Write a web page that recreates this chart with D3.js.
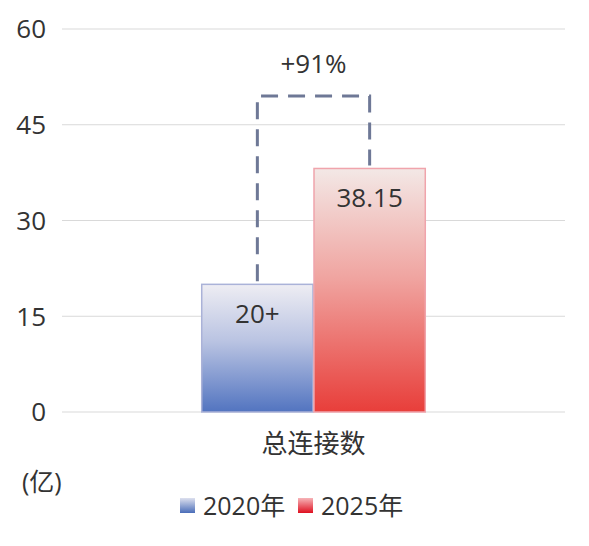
<!DOCTYPE html>
<html><head><meta charset="utf-8">
<script src="https://cdn.jsdelivr.net/npm/d3@7"></script>
<style>body{margin:0;background:#fff;}text{font-family:"Open Sans","Noto Sans CJK SC",sans-serif;fill:#333;}</style>
</head><body>
<svg id="c" width="589" height="546"></svg>
<script>
const categories = ["总连接数"];
const seriesNames = ["2020年", "2025年"];
const values2020 = [20];
const values2025 = [38.15];
const valueLabels2020 = ["20+"];
const valueLabels2025 = ["38.15"];
const yTicks = [0, 15, 30, 45, 60];
const growthLabel = "+91%";
const unitLabel = "(亿)";

(function () {
const svg = d3.select("#c");
const pl = 62, pr = 565, pt = 29, pb = 412;
const y = d3.scaleLinear().domain([0, 60]).range([pb, pt]);
const x = d3.scaleBand().domain(categories).range([pl, pr]).paddingInner(0).paddingOuter(0.62);
const x1 = d3.scaleBand().domain(seriesNames).range([0, x.bandwidth()]).padding(0);

const defs = svg.append("defs");
function grad(id, stops) {
  const g = defs.append("linearGradient").attr("id", id).attr("x1", 0).attr("y1", 0).attr("x2", 0).attr("y2", 1);
  stops.forEach(s => g.append("stop").attr("offset", s[0]).attr("stop-color", s[1]));
}
grad("gb", [["0%", "#eeedf3"], ["45%", "#b9c3e2"], ["100%", "#5274c0"]]);
grad("gr", [["0%", "#f3e8e6"], ["45%", "#f0a4a0"], ["100%", "#e83e3a"]]);
grad("lb", [["0%", "#dde0ee"], ["100%", "#4a6db9"]]);
grad("lr", [["0%", "#f6b4b8"], ["100%", "#df1020"]]);

svg.append("g").selectAll("line").data(yTicks).join("line")
  .attr("x1", pl).attr("x2", pr).attr("y1", d => y(d)).attr("y2", d => y(d))
  .attr("stroke", "#d9d9d9").attr("stroke-width", 1);
svg.append("g").selectAll("text").data(yTicks).join("text")
  .attr("x", 46).attr("y", d => y(d)).attr("dy", "0.36em").attr("text-anchor", "end")
  .attr("font-size", 26).text(d => d);

const series = [
  {name: seriesNames[0], vals: values2020, labels: valueLabels2020, fill: "url(#gb)", stroke: "#aab2d8"},
  {name: seriesNames[1], vals: values2025, labels: valueLabels2025, fill: "url(#gr)", stroke: "#f0a4ac"}
];
const gBars = svg.append("g");
series.forEach(s => {
  categories.forEach((c, i) => {
    const bx = x(c) + x1(s.name);
    gBars.append("rect").attr("x", bx + 0.5).attr("y", y(s.vals[i])).attr("width", x1.bandwidth() - 1)
      .attr("height", y(0) - y(s.vals[i])).attr("fill", s.fill).attr("stroke", s.stroke).attr("stroke-width", 1.5);
    gBars.append("text").attr("x", bx + x1.bandwidth() / 2).attr("y", y(s.vals[i]) + 39)
      .attr("text-anchor", "middle").attr("font-size", 26).text(s.labels[i]);
  });
});

const c0 = categories[0];
const xa = x(c0) + x1(seriesNames[0]) + x1.bandwidth() / 2;
const xb = x(c0) + x1(seriesNames[1]) + x1.bandwidth() / 2;
const yTopB = y(49.5);
svg.append("path")
  .attr("d", `M${xa},${y(values2020[0]) - 3}V${yTopB}H${xb}V${y(values2025[0]) - 3}`)
  .attr("fill", "none").attr("stroke", "#6e7896").attr("stroke-width", 3).attr("stroke-dasharray", "17,10");
svg.append("text").attr("x", (xa + xb) / 2).attr("y", 73).attr("text-anchor", "middle")
  .attr("font-size", 26).text(growthLabel);

svg.append("text").attr("x", x(c0) + x.bandwidth() / 2).attr("y", 444).attr("dy", "0.36em").attr("text-anchor", "middle")
  .attr("font-size", 26).text(c0);
svg.append("text").attr("x", 22).attr("y", 482).attr("dy", "0.36em").attr("font-size", 25).text(unitLabel);

const lg = svg.append("g");
const legItems = [{n: seriesNames[0], f: "url(#lb)", x: 180}, {n: seriesNames[1], f: "url(#lr)", x: 298}];
legItems.forEach(l => {
  lg.append("rect").attr("x", l.x).attr("y", 498).attr("width", 15).attr("height", 15).attr("fill", l.f);
  lg.append("text").attr("x", l.x + 23).attr("y", 506).attr("dy", "0.36em").attr("font-size", 25).text(l.n);
});
})();
</script>
</body></html>
